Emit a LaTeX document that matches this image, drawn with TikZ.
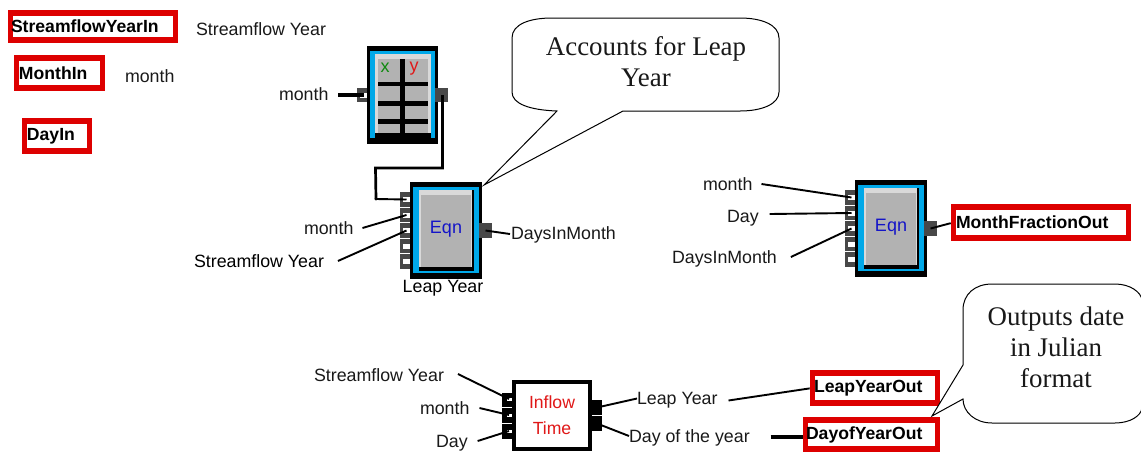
\documentclass[tikz,border=0pt]{standalone}
\usepackage{fontspec}
\setmainfont{Liberation Sans}
\newfontfamily\calloutfont{Liberation Serif}
\usetikzlibrary{positioning}
\definecolor{blockblue}{HTML}{00A8E8}
\definecolor{boxred}{HTML}{DD0000}
\definecolor{cellgray}{HTML}{B2B2B2}
\definecolor{edgegray}{HTML}{D9D9D9}
\definecolor{portgray}{HTML}{484848}
\definecolor{eqnblue}{HTML}{1414C8}
\definecolor{inred}{HTML}{E01818}
\definecolor{xgreen}{HTML}{108A10}
\tikzset{
    part/.style = {rectangle, inner sep=0pt, outer sep=0pt, draw=none},
    mylabel/.style = {inner sep=0pt, outer sep=0pt, text=black!90, font=\fontsize{17.8}{20}\selectfont},
    myport/.style = {part, fill=portgray, minimum width=10, minimum height=14.5},
    myportb/.style = {part, fill=black, minimum width=10, minimum height=14.5},
    myhole/.style = {part, fill=white, minimum width=7, minimum height=5},
    myout/.style = {part, fill=portgray, minimum width=13, minimum height=14.5},
    redbox/.style = {rectangle, draw=boxred, line width=5.2pt, fill=white, outer sep=0pt, inner ysep=0pt, align=left, font=\fontsize{17.6}{20}\selectfont\bfseries, text=black},
    edgen/.style = {-, line width=1.9pt, black},
    edgek/.style = {-, line width=4pt, black},
    mycallout/.style = {draw=black, line width=1pt, fill=white},
    callouttext/.style = {inner sep=0pt, align=center, text=black!90, font=\fontsize{26.9}{31}\selectfont\calloutfont},
}
% one Eqn block, #1 = name, (#2,#3) = middle of the black frame
\newcommand{\eqnblock}[3]{
\begin{scope}[shift={(#2,#3)}]
\node[part,fill=black,minimum width=72,minimum height=97] at (0,0) (#1frame) {};
\node[part,fill=blockblue,minimum width=66,minimum height=86] at (0,-0.5) (#1blue) {};
\node[part,fill=black,minimum width=55,minimum height=81] at (0,-0.5) (#1dark) {};
\node[part,fill=edgegray,minimum width=53,minimum height=77] at (-1,-2.5) (#1light) {};
\node[part,fill=cellgray,minimum width=50,minimum height=72,text=eqnblue,text height=13pt,text depth=7pt,font=\fontsize{18}{20}\selectfont] at (0,0) (#1) {Eqn};
\foreach \n/\py in {1/-31,2/-15.5,3/0,4/15.5,5/31}{
  \node[myport] at (-41,\py) (#1p\n) {};
  \node[myhole] at (-39.5,\py) (#1h\n) {};
}
\node[myout] at (39.5,0) (#1out) {};
\end{scope}
}

\begin{document}
\begin{tikzpicture}[x=1pt,y=-1pt]
\path[use as bounding box] (0,0) rectangle (1141,451);
%
% input and output boxes
\node[redbox,inner xsep=0.75pt,text width=164pt,minimum height=27] at (93,26.5) (StreamflowYearIn) {StreamflowYearIn};
\node[redbox,inner xsep=2.75pt,text width=81pt,minimum height=30] at (59.5,73) (MonthIn) {MonthIn};
\node[redbox,inner xsep=2.75pt,text width=60pt,minimum height=30] at (57,136) (DayIn) {DayIn};
\node[redbox,inner xsep=2.75pt,text width=170pt,minimum height=31] at (1041,222.5) (MonthFractionOut) {MonthFractionOut};
\node[redbox,inner xsep=1.75pt,text width=122pt,minimum height=30] at (875,388) (LeapYearOut) {LeapYearOut};
\node[redbox,inner xsep=0.75pt,text width=131pt,minimum height=29] at (871.5,434.5) (DayofYearOut) {DayofYearOut};
%
\node[mylabel,anchor=west] at (196,29) (ltitle) {Streamflow Year};
\node[mylabel,anchor=west] at (125,76) (lmonth) {month};
%
% table block
\node[part,fill=black,minimum width=71,minimum height=98] at (402.5,95) (tframe) {};
\node[part,fill=blockblue,minimum width=65,minimum height=87] at (402.5,94.5) (tblue) {};
\node[part,fill=black,minimum width=56,minimum height=84] at (403,96) (tdark) {};
\node[part,fill=edgegray,minimum width=56,minimum height=79] at (403,93.5) (tlight) {};
\node[part,fill=cellgray,minimum width=50,minimum height=74] at (403,96) (tcells) {};
\node[part,fill=black,minimum width=5,minimum height=74] at (402.5,96) (tcol) {};
\node[part,fill=black,minimum width=50,minimum height=4.5] at (403,84) (trow1) {};
\node[part,fill=black,minimum width=50,minimum height=5] at (403,103.5) (trow2) {};
\node[part,fill=black,minimum width=50,minimum height=5] at (403,121.5) (trow3) {};
\node[part,inner sep=0pt,text=xgreen,font=\fontsize{18}{20}\selectfont] at (385,68) (tx) {x};
\node[part,inner sep=0pt,text=inred,font=\fontsize{18}{20}\selectfont] at (414,69) (ty) {y};
\node[myport] at (362,95) (tin) {};
\node[myhole] at (363.5,95) (tinh) {};
\node[myout] at (441.5,95) (tout) {};
\node[mylabel,anchor=west] at (279,94) (lm0) {month};
%
% the two Eqn blocks
\eqnblock{eqa}{446}{230.5}
\eqnblock{eqb}{891}{228.5}
\node[mylabel,anchor=center,text=black] at (443,288) (leapyear) {Leap Year};
%
\node[mylabel,anchor=west] at (304,228) (lm1) {month};
\node[mylabel,anchor=west,text=black] at (194,261) (ls1) {Streamflow Year};
\node[mylabel,anchor=west] at (511,235) (ld1) {DaysInMonth};
\node[mylabel,anchor=west] at (703,184) (lm2) {month};
\node[mylabel,anchor=west] at (727,218) (lday2) {Day};
\node[mylabel,anchor=west] at (672,259) (ld2) {DaysInMonth};
%
% inflow time block
\node[myportb] at (507,400) (ip1) {};
\node[myportb] at (507,415.5) (ip2) {};
\node[myportb] at (507,431.5) (ip3) {};
\node[myhole,minimum width=5,minimum height=3] at (509,399) (ih1) {};
\node[myhole,minimum width=5,minimum height=3] at (509,415) (ih2) {};
\node[myhole,minimum width=5,minimum height=3] at (509,431) (ih3) {};
\node[myportb] at (597,407.5) (iq1) {};
\node[myportb] at (597,423.5) (iq2) {};
\node[part,draw=black,line width=4pt,fill=white,minimum width=76,minimum height=67,align=center,text=inred,font=\fontsize{17.6}{26}\selectfont] at (552,415.5) (inflow) {Inflow\\Time};
%
\node[mylabel,anchor=west] at (314,375) (ls3) {Streamflow Year};
\node[mylabel,anchor=west] at (420,408) (lm3) {month};
\node[mylabel,anchor=west] at (436,443) (lday3) {Day};
\node[mylabel,anchor=west] at (637,400.5) (lleap) {Leap Year};
\node[mylabel,anchor=west] at (629,438) (lyear) {Day of the year};
%
\coordinate (bend) at (376,199);
% connectors
\draw[edgek] ([xshift=10pt,yshift=-1pt]lm0.east) -- (tinh.center);
\draw[edgen,line width=2.7pt] ([xshift=1pt]tout.center) -- ++(0,73) -- ++(-67,0) -- (bend);
\draw[edgen] (bend) -- (eqah1.center);
\fill (bend) circle (1.6);
\draw[edgen] ([xshift=9pt]lm1.east) -- (eqah2.center);
\draw[edgen] ([xshift=14pt]ls1.east) -- (eqah3.center);
\draw[edgen] (eqaout.center) -- ([xshift=-1pt,yshift=1pt]ld1.west);
\draw[edgen] ([xshift=9pt]lm2.east) -- (eqbh1.center);
\draw[edgen] ([xshift=11pt,yshift=4pt]lday2.east) -- (eqbh2.center);
\draw[edgen] ([xshift=14pt,yshift=2pt]ld2.east) -- (eqbh3.center);
\draw[edgen,shorten >=2.6pt] (eqbout.center) -- (MonthFractionOut.west);
\draw[edgen] ([xshift=14pt,yshift=1pt]ls3.east) -- (ih1.center);
\draw[edgen] ([xshift=10pt]lm3.east) -- (ih2.center);
\draw[edgen] ([xshift=10pt,yshift=2pt]lday3.east) -- (ih3.center);
\draw[edgen] (iq1.center) -- ([yshift=2pt]lleap.west);
\draw[edgen] (iq2.center) -- ([yshift=2pt]lyear.west);
\draw[edgen,shorten >=2.6pt] ([xshift=11pt]lleap.east) -- (LeapYearOut.west);
\draw[edgek,shorten >=2.6pt] ([xshift=21pt,yshift=1pt]lyear.east) -- ([yshift=-2.5pt]DayofYearOut.west);
%
% callouts
\draw[mycallout] (512,38) .. controls (512,24) and (530,18) .. (552,18) -- (740,18) .. controls (762,18) and (779,25) .. (779,38) -- (779,92) .. controls (779,104) and (762,111) .. (740,111) -- (623,111) -- (484,185) -- (557,111) .. controls (530,110) and (512,104) .. (512,92) -- cycle;
\node[callouttext] at (646,62) (leapnote) {Accounts for Leap\\Year};
\draw[mycallout] (963,310) .. controls (963,294) and (975,284) .. (992,284) -- (1115,284) .. controls (1130,284) and (1141,292) .. (1142,300) -- (1142,408) .. controls (1141,416) and (1130,423) .. (1115,423) -- (992,423) .. controls (975,423) and (963,412) .. (963,399) -- (932,416) -- (963,365) -- cycle;
\node[callouttext] at (1056,347) (juliannote) {Outputs date\\in Julian\\format};
\end{tikzpicture}
\end{document}
